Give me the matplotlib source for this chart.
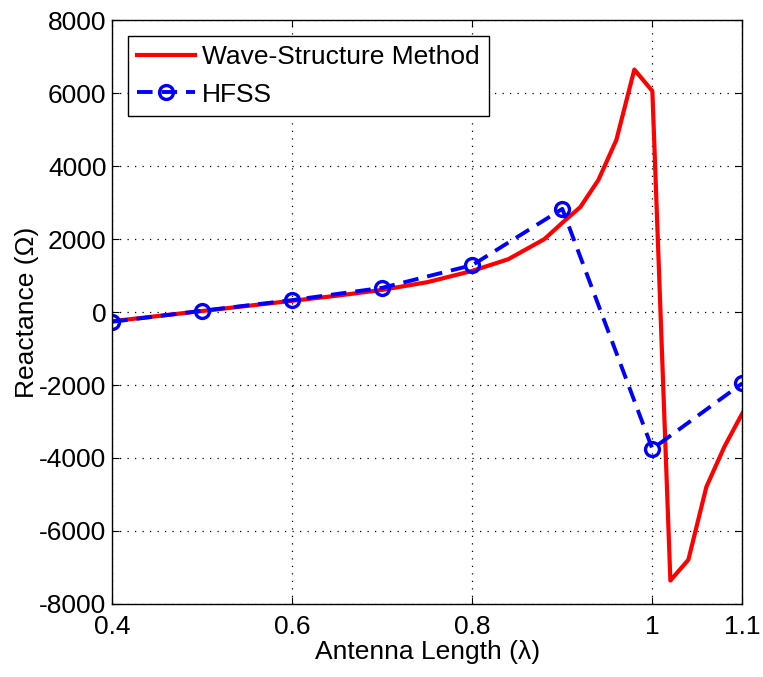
import numpy as np
import matplotlib
matplotlib.use('Agg')
import matplotlib.pyplot as plt

# Wave-structure method (solid red)
wsm_len = [0.40, 0.45, 0.50, 0.55, 0.60, 0.65, 0.70, 0.75, 0.80, 0.84, 0.88,
           0.90, 0.92, 0.94, 0.96, 0.98, 1.00, 1.02, 1.04, 1.06, 1.08, 1.10]
wsm_x = [-250, -110, 30, 170, 310, 450, 610, 820, 1130, 1450, 2000,
         2450, 2880, 3620, 4720, 6650, 6060, -7360, -6790, -4790, -3690, -2770]

# HFSS (blue dashed with circles)
hfss_len = [0.4, 0.5, 0.6, 0.7, 0.8, 0.9, 1.0, 1.1]
hfss_x = [-265, 36, 329, 666, 1288, 2830, -3750, -1950]

plt.rcParams['font.family'] = ['Liberation Sans', 'DejaVu Sans']
plt.rcParams['axes.unicode_minus'] = False

fs = 19
fig = plt.figure(figsize=(7.63, 6.77), dpi=100)
ax = fig.add_axes([0.147, 0.108, 0.826, 0.862])

ax.plot(wsm_len, wsm_x, '-', color='red', lw=3.0, label='Wave-Structure Method')
ax.plot(hfss_len, hfss_x, '--', color='blue', lw=2.8, marker='o', ms=10,
        mfc='none', mew=2.4, dashes=(4, 2.3), label='HFSS')

ax.set_xlim(0.4, 1.1)
ax.set_ylim(-8000, 8000)
ax.set_xticks([0.4, 0.6, 0.8, 1.0, 1.1])
ax.set_xticklabels(['0.4', '0.6', '0.8', '1', '1.1'])
ax.set_yticks(np.arange(-8000, 8001, 2000))
ax.grid(True, color='black', linestyle=(0, (1, 5)), linewidth=0.9)
ax.tick_params(direction='in', top=True, right=True, labelsize=fs, length=5)
ax.tick_params(axis='x', pad=8)
ax.tick_params(axis='y', pad=4)
for s in ax.spines.values():
    s.set_linewidth(1.0)

ax.set_xlabel('Antenna Length (λ)', fontsize=fs, labelpad=1)
ax.set_ylabel('Reactance (Ω)', fontsize=fs, labelpad=0)

leg = ax.legend(loc='upper left', fontsize=fs, fancybox=False, edgecolor='black',
                framealpha=1, borderaxespad=0.6, handlelength=2.2, borderpad=0.35,
                labelspacing=0.5, handletextpad=0.25)
leg.get_frame().set_linewidth(1.0)

fig.savefig('out.png', dpi=100)
